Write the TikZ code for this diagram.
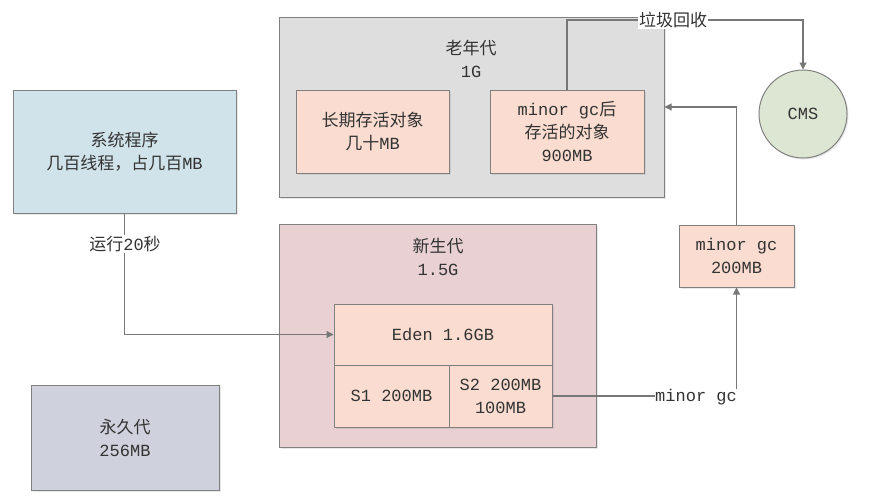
\documentclass[tikz,border=0pt]{standalone}
\usepackage{fontspec}
\setmainfont{Liberation Mono}
\newfontfamily\cjk{Noto Sans CJK SC}
\newcommand{\C}[1]{{\cjk #1}}
\usetikzlibrary{arrows.meta,shadows}
\definecolor{edgegray}{HTML}{808080}
\definecolor{linegray}{HTML}{777777}
\definecolor{oldfill}{HTML}{DEDEDE}
\definecolor{peach}{HTML}{FADCD0}
\definecolor{cmsfill}{HTML}{DDE6D3}
\definecolor{sysfill}{HTML}{D1E3EA}
\definecolor{youngfill}{HTML}{E8D0D3}
\definecolor{permfill}{HTML}{CFD1DC}
\definecolor{txt}{HTML}{333333}
\begin{document}
\begin{tikzpicture}[x=1pt,y=-1pt,
  every node/.style={font=\fontsize{17}{23}\selectfont, text=txt},
  boxnode/.style={draw=edgegray, line width=1pt, align=center, inner sep=0pt,
    drop shadow={opacity=0.18, shadow xshift=1.5pt, shadow yshift=-1.5pt}},
  plaintxt/.style={align=center, inner sep=1pt},
  conn/.style={draw=linegray, line width=1.1pt},
  arr/.style={conn, -{Triangle[width=7pt,length=7pt]}}]
\useasboundingbox (0,0) rectangle (893,499);

% old generation
\node[boxnode, fill=oldfill, minimum width=385, minimum height=180] (old) at (471.5,107) {};
\node[plaintxt] (oldt) at (471,59) {\C{老年代}\\1G};
\node[boxnode, fill=peach, minimum width=153, minimum height=83] (long) at (372.5,131.5) {\C{长期存活对象}\\\C{几十}MB};
\node[boxnode, fill=peach, minimum width=154, minimum height=83] (surv) at (567,131.5) {minor gc\C{后}\\\C{存活的对象}\\900MB};

% CMS
\node[circle, draw=edgegray, line width=1pt, fill=cmsfill, minimum size=88, inner sep=0pt,
  drop shadow={opacity=0.18, shadow xshift=1.5pt, shadow yshift=-1.5pt}] (cms) at (803,114) {CMS};

% system program
\node[boxnode, fill=sysfill, minimum width=223, minimum height=123] (sys) at (124.5,151.5) {\C{系统程序}\\\C{几百线程，占几百}MB};

% young generation
\node[boxnode, fill=youngfill, minimum width=317, minimum height=223] (young) at (437.5,335.5) {};
\node[plaintxt] (yt) at (438,257) {\C{新生代}\\1.5G};
\node[boxnode, fill=peach, minimum width=218, minimum height=61] (eden) at (443,334.5) {Eden 1.6GB};
\node[boxnode, fill=peach, minimum width=115, minimum height=62] (s1) at (391.5,396) {S1 200MB};
\node[boxnode, fill=peach, minimum width=103, minimum height=62] (s2) at (500.5,396) {S2 200MB\\100MB};

% minor gc box
\node[boxnode, fill=peach, minimum width=115, minimum height=62] (mgbox) at (736.5,256) {minor gc\\200MB};
\node[plaintxt, inner sep=0pt, anchor=west] (mgtext) at (655,397) {minor gc};

% permanent generation
\node[boxnode, fill=permfill, minimum width=188, minimum height=105] (perm) at (125,437.5) {\C{永久代}\\256MB};

% connectors
\draw[arr] (sys.south) |- (eden.west);
\node[plaintxt, fill=white] (runlab) at (125,244) {\C{运行}20\C{秒}};

\draw[conn] (s2.east) -- (s2.east -| mgtext.west);
\draw[arr] (mgbox.south |- mgtext.north) -- (mgbox.south);
\draw[arr] (mgbox.north) |- (old.east);

\node[plaintxt, fill=white, inner sep=1pt] (gclab) at (673,20) {\C{垃圾回收}};
\draw[conn] (surv.north) |- (gclab.west);
\draw[arr] (gclab.east) -| (cms.north);
\end{tikzpicture}
\end{document}
